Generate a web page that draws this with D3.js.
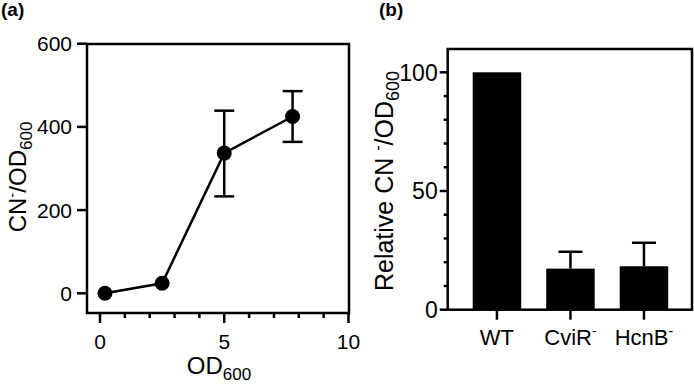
<!DOCTYPE html>
<html>
<head>
<meta charset="utf-8">
<script src="https://cdn.jsdelivr.net/npm/d3@7"></script>
<style>
  body { margin: 0; background: #fff; }
  svg { display: block; font-family: "Liberation Sans", Arial, sans-serif; }
</style>
</head>
<body>
<div id="chart-area"></div>
<script>
// datos del panel (a)
var od = [0.2, 2.5, 5, 7.75];
var cn = [0, 24, 337, 425];
var cnLow = [0, 24, 233, 364];
var cnHigh = [0, 24, 439, 486];
var xTicksA = [0, 5, 10];
var yTicksA = [0, 200, 400, 600];

// datos del panel (b)
var strains = ["WT", "CviR", "HcnB"];
var relative = [100, 17.3, 18.3];
var relErr = [0, 7.1, 9.9];
var yTicksB = [0, 50, 100];

var svg = d3.select("#chart-area").append("svg")
    .attr("width", 694)
    .attr("height", 384);

var black = "#000";
var sw = 2.5;

// ---------- panel (a) ----------
var frameA = { left: 87, right: 349, top: 44, bottom: 313 };
var xA = d3.scaleLinear().domain([0, 10]).range([100, 348.5]);
var yA = d3.scaleLinear().domain([0, 600]).range([293.3, 43.7]);

var gA = svg.append("g");

// marco
gA.append("rect")
    .attr("x", frameA.left).attr("y", frameA.top)
    .attr("width", frameA.right - frameA.left)
    .attr("height", frameA.bottom - frameA.top)
    .attr("fill", "none").attr("stroke", black).attr("stroke-width", sw);

// eje x: ticks mayores y menores
var xAxisA = gA.append("g").attr("transform", "translate(0," + frameA.bottom + ")");
xAxisA.selectAll("line.minor")
    .data(d3.range(0, 11))
    .enter().append("line")
    .attr("x1", function(d) { return xA(d); })
    .attr("x2", function(d) { return xA(d); })
    .attr("y1", 0)
    .attr("y2", function(d) { return d % 5 === 0 ? 10 : 5; })
    .attr("stroke", black).attr("stroke-width", sw);
xAxisA.selectAll("text")
    .data(xTicksA)
    .enter().append("text")
    .attr("x", function(d) { return xA(d); })
    .attr("y", 36)
    .attr("text-anchor", "middle")
    .attr("font-size", 21)
    .text(function(d) { return d; });

// eje y
var yAxisA = gA.append("g").attr("transform", "translate(" + frameA.left + ",0)");
yAxisA.selectAll("line")
    .data(yTicksA)
    .enter().append("line")
    .attr("x1", -10).attr("x2", 0)
    .attr("y1", function(d) { return yA(d); })
    .attr("y2", function(d) { return yA(d); })
    .attr("stroke", black).attr("stroke-width", sw);
yAxisA.selectAll("text")
    .data(yTicksA)
    .enter().append("text")
    .attr("x", -15)
    .attr("y", function(d) { return yA(d); })
    .attr("dy", "0.36em")
    .attr("text-anchor", "end")
    .attr("font-size", 21)
    .text(function(d) { return d; });

// línea
var pts = od.map(function(d, i) { return { x: d, y: cn[i], lo: cnLow[i], hi: cnHigh[i] }; });
gA.append("path")
    .datum(pts)
    .attr("fill", "none").attr("stroke", black).attr("stroke-width", sw)
    .attr("d", d3.line().x(function(d) { return xA(d.x); }).y(function(d) { return yA(d.y); }));

// barras de error
var errA = gA.selectAll("g.err").data(pts.filter(function(d) { return d.hi > d.lo; }))
    .enter().append("g");
errA.append("line")
    .attr("x1", function(d) { return xA(d.x); }).attr("x2", function(d) { return xA(d.x); })
    .attr("y1", function(d) { return yA(d.lo); }).attr("y2", function(d) { return yA(d.hi); })
    .attr("stroke", black).attr("stroke-width", sw);
[["lo"], ["hi"]].forEach(function(k) {
    errA.append("line")
        .attr("x1", function(d) { return xA(d.x) - 10; }).attr("x2", function(d) { return xA(d.x) + 10; })
        .attr("y1", function(d) { return yA(d[k[0]]); }).attr("y2", function(d) { return yA(d[k[0]]); })
        .attr("stroke", black).attr("stroke-width", sw);
});

// puntos
gA.selectAll("circle")
    .data(pts)
    .enter().append("circle")
    .attr("cx", function(d) { return xA(d.x); })
    .attr("cy", function(d) { return yA(d.y); })
    .attr("r", 7.5)
    .attr("fill", black);

// etiquetas panel (a)
var xLabA = gA.append("text")
    .attr("x", 219).attr("y", 374)
    .attr("text-anchor", "middle")
    .attr("font-size", 24);
xLabA.append("tspan").text("OD");
xLabA.append("tspan").attr("font-size", 17).attr("dy", 6).text("600");

var yLabA = gA.append("text")
    .attr("transform", "translate(26,177) rotate(-90)")
    .attr("text-anchor", "middle")
    .attr("font-size", 24);
yLabA.append("tspan").text("CN");
yLabA.append("tspan").attr("font-size", 15).attr("dy", -9).text("-");
yLabA.append("tspan").attr("dy", 9).text("/OD");
yLabA.append("tspan").attr("font-size", 17).attr("dy", 6).text("600");

svg.append("text")
    .attr("x", 1).attr("y", 16)
    .attr("font-size", 19).attr("font-weight", "bold")
    .text("(a)");

// ---------- panel (b) ----------
var frameB = { left: 447.7, right: 692, top: 49, bottom: 309.7 };
var xB = d3.scaleBand().domain(strains).range([frameB.left, 693.2]).paddingInner(0.34).paddingOuter(0.34);
var yB = d3.scaleLinear().domain([0, 100]).range([309.7, 72.3]);

var gB = svg.append("g");

gB.append("rect")
    .attr("x", frameB.left).attr("y", frameB.top)
    .attr("width", frameB.right - frameB.left)
    .attr("height", frameB.bottom - frameB.top)
    .attr("fill", "none").attr("stroke", black).attr("stroke-width", sw);

// barras
var bars = strains.map(function(d, i) { return { s: d, v: relative[i], e: relErr[i] }; });
gB.selectAll("rect.bar")
    .data(bars)
    .enter().append("rect")
    .attr("class", "bar")
    .attr("x", function(d) { return xB(d.s); })
    .attr("y", function(d) { return yB(d.v); })
    .attr("width", xB.bandwidth())
    .attr("height", function(d) { return yB(0) - yB(d.v); })
    .attr("fill", black);

// barras de error (solo hacia arriba)
var errB = gB.selectAll("g.errb").data(bars.filter(function(d) { return d.e > 0; }))
    .enter().append("g");
errB.append("line")
    .attr("x1", function(d) { return xB(d.s) + xB.bandwidth() / 2; })
    .attr("x2", function(d) { return xB(d.s) + xB.bandwidth() / 2; })
    .attr("y1", function(d) { return yB(d.v); })
    .attr("y2", function(d) { return yB(d.v + d.e); })
    .attr("stroke", black).attr("stroke-width", sw);
errB.append("line")
    .attr("x1", function(d) { return xB(d.s) + xB.bandwidth() / 2 - 12; })
    .attr("x2", function(d) { return xB(d.s) + xB.bandwidth() / 2 + 12; })
    .attr("y1", function(d) { return yB(d.v + d.e); })
    .attr("y2", function(d) { return yB(d.v + d.e); })
    .attr("stroke", black).attr("stroke-width", sw);

// eje y (b) con ticks menores
var yAxisB = gB.append("g").attr("transform", "translate(" + frameB.left + ",0)");
yAxisB.selectAll("line")
    .data(d3.range(0, 101, 10))
    .enter().append("line")
    .attr("x1", function(d) { return d % 50 === 0 ? -8 : -4; }).attr("x2", 0)
    .attr("y1", function(d) { return yB(d); })
    .attr("y2", function(d) { return yB(d); })
    .attr("stroke", black).attr("stroke-width", sw);
yAxisB.selectAll("text")
    .data(yTicksB)
    .enter().append("text")
    .attr("x", -10)
    .attr("y", function(d) { return yB(d); })
    .attr("dy", "0.36em")
    .attr("text-anchor", "end")
    .attr("font-size", 23)
    .text(function(d) { return d; });

// eje x (b)
var xAxisB = gB.append("g").attr("transform", "translate(0," + frameB.bottom + ")");
xAxisB.selectAll("line")
    .data(strains)
    .enter().append("line")
    .attr("x1", function(d) { return xB(d) + xB.bandwidth() / 2; })
    .attr("x2", function(d) { return xB(d) + xB.bandwidth() / 2; })
    .attr("y1", 0).attr("y2", 10)
    .attr("stroke", black).attr("stroke-width", sw);
var catLabels = xAxisB.selectAll("text")
    .data(strains)
    .enter().append("text")
    .attr("x", function(d) { return xB(d) + xB.bandwidth() / 2; })
    .attr("y", 35)
    .attr("text-anchor", "middle")
    .attr("font-size", 22);
catLabels.append("tspan").text(function(d) { return d; });
catLabels.filter(function(d) { return d !== "WT"; })
    .append("tspan").attr("font-size", 14).attr("dy", -9).text("-");

var yLabB = gB.append("text")
    .attr("transform", "translate(393,181) rotate(-90)")
    .attr("text-anchor", "middle")
    .attr("font-size", 25);
yLabB.append("tspan").text("Relative CN ");
yLabB.append("tspan").attr("font-size", 16).attr("dy", -10).text("-");
yLabB.append("tspan").attr("dy", 10).text("/OD");
yLabB.append("tspan").attr("font-size", 18).attr("dy", 6).text("600");

svg.append("text")
    .attr("x", 379).attr("y", 16)
    .attr("font-size", 19).attr("font-weight", "bold")
    .text("(b)");
</script>
</body>
</html>
